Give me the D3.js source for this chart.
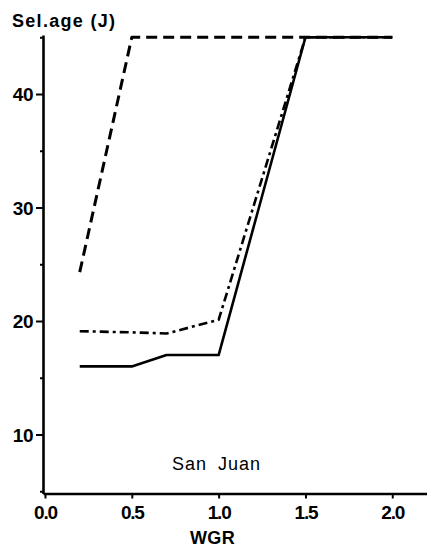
<!DOCTYPE html>
<html>
<head>
<meta charset="utf-8">
<script src="https://cdn.jsdelivr.net/npm/d3@7"></script>
<style>
  html, body { margin: 0; padding: 0; background: #fff; }
  svg { display: block; }
  text { font-family: "Liberation Sans", Arial, sans-serif; fill: #000; }
</style>
</head>
<body>
<svg id="chart" width="427" height="548"></svg>
<script>
// WGR values and selection age curves (San Juan)
const wgr = [0.2, 0.5, 0.7, 1.0, 1.5, 2.0];
const selAgeSolid   = [16, 16, 17, 17, 45, 45];
const selAgeDashDot = [19.1, 19, 18.9, 20.1, 45, 45];
const selAgeDashed  = [24.3, 45, 45, 45, 45, 45];

const xTicks = [0.0, 0.5, 1.0, 1.5, 2.0];
const yMajorTicks = [10, 20, 30, 40];
const yMinorTicks = [5, 15, 25, 35, 45];

const svg = d3.select("#chart");

const x = d3.scaleLinear().domain([-0.0115, 2.2]).range([43, 427]);
const y = d3.scaleLinear().domain([4.8, 45.2]).range([493.5, 35]);

// Y axis: labelled major ticks plus short unlabelled minor ticks
const yAxis = svg.append("g")
  .attr("transform", `translate(${x.range()[0]},0)`)
  .call(d3.axisLeft(y).tickValues(yMajorTicks).tickSize(7).tickSizeOuter(0)
    .tickFormat(d3.format("d")));
svg.append("g")
  .attr("transform", `translate(${x.range()[0]},0)`)
  .call(d3.axisLeft(y).tickValues(yMinorTicks).tickSize(3).tickSizeOuter(0).tickFormat(""))
  .select(".domain").remove();

// X axis
const xAxis = svg.append("g")
  .attr("transform", `translate(0,${y.range()[0]})`)
  .call(d3.axisBottom(x).tickValues(xTicks).tickSize(5).tickSizeOuter(0)
    .tickFormat(d3.format(".1f")));

svg.selectAll(".domain").attr("stroke", "#000").attr("stroke-width", 2.6);
svg.selectAll(".tick line").attr("stroke", "#000").attr("stroke-width", 2);

yAxis.selectAll(".tick text")
  .attr("x", -10)
  .attr("dy", "0.36em")
  .style("font-size", "19px")
  .style("font-weight", "bold")
  .style("letter-spacing", "-0.5px");

xAxis.selectAll(".tick text")
  .attr("y", 12)
  .attr("dy", "0.71em")
  .style("font-size", "19px")
  .style("font-weight", "bold")
  .style("letter-spacing", "-1.2px");

// Curves
const line = d3.line().x(d => x(d[0])).y(d => y(d[1]));
const series = [
  { values: selAgeSolid,   dash: null,          width: 2.6 },
  { values: selAgeDashDot, dash: "9 4 3 4",     width: 2.6 },
  { values: selAgeDashed,  dash: "11 6",        width: 3 }
];
series.forEach(s => {
  svg.append("path")
    .datum(wgr.map((w, i) => [w, s.values[i]]))
    .attr("d", line)
    .attr("fill", "none")
    .attr("stroke", "#000")
    .attr("stroke-width", s.width)
    .attr("stroke-linejoin", "round")
    .attr("stroke-dasharray", s.dash);
});

// Titles
svg.append("text")
  .attr("x", 12).attr("y", 27)
  .style("font-size", "18px").style("font-weight", "bold")
  .style("letter-spacing", "1.3px")
  .text("Sel.age (J)");

svg.append("text")
  .attr("x", x(1.0) - 6).attr("y", 544)
  .attr("text-anchor", "middle")
  .style("font-size", "18px").style("font-weight", "bold")
  .style("letter-spacing", "0.5px")
  .text("WGR");

svg.append("text")
  .attr("x", 172).attr("y", 470)
  .style("font-size", "18px")
  .style("letter-spacing", "1px").style("word-spacing", "5px")
  .text("San Juan");
</script>
</body>
</html>
